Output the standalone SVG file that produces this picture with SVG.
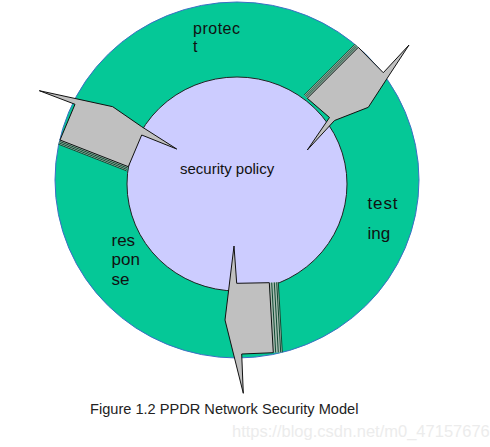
<svg xmlns="http://www.w3.org/2000/svg" width="490" height="447" viewBox="0 0 490 447">
<style>
.lbl{font-family:"Liberation Sans",Arial,sans-serif;font-size:17px;fill:#111}
.arrow{fill:#c0c0c0;stroke:#111;stroke-width:1;stroke-linejoin:miter}
.strip{fill:#a9bcb1;stroke:none}
.sl{stroke:#0f4a33;stroke-width:1;fill:none}
</style>
<rect width="490" height="447" fill="#ffffff"/>
<g id="ring">
<ellipse cx="237" cy="180" rx="182" ry="178" fill="#05c897" stroke="#3a6fc4" stroke-width="1"/>
</g>
<g id="policy">
<ellipse cx="237" cy="184" rx="110" ry="107" fill="#ccccff" stroke="#222" stroke-width="1"/>
<text class="lbl" x="180" y="174" style="font-size:15px">security policy</text>
</g>
<g id="protect">
<text class="lbl" x="193" y="34" style="font-size:16px" textLength="47">protec</text>
<text class="lbl" x="193" y="52" style="font-size:16px">t</text>
</g>
<g id="testing">
<text class="lbl" x="367.5" y="209" textLength="30">test</text>
<text class="lbl" x="367.5" y="239">ing</text>
</g>
<g id="response">
<text class="lbl" x="111.5" y="246">res</text>
<text class="lbl" x="111.5" y="265">pon</text>
<text class="lbl" x="111.5" y="285">se</text>
</g>
<g id="connectors">
<polygon class="strip" points="60,140 128.3,166.7 126.7,170.9 58.4,144.2"/>
<line class="sl" x1="59.45" y1="141.4" x2="127.75" y2="168.1"/>
<line class="sl" x1="58.9" y1="142.8" x2="127.2" y2="169.5"/>
<line class="sl" x1="58.36" y1="144.2" x2="126.66" y2="170.9"/>
<polygon class="arrow" points="39.3,90.7 112.7,106.7 141.7,126.7 176.7,149 141.7,135 128.3,166.7 60,140 75,104.3"/>
<polygon class="strip" points="307.3,98.3 358.3,47.3 355.1,44.1 304.1,95.1"/>
<line class="sl" x1="306.2" y1="97.2" x2="357.2" y2="46.2"/>
<line class="sl" x1="305.2" y1="96.2" x2="356.2" y2="45.2"/>
<line class="sl" x1="304.1" y1="95.1" x2="355.1" y2="44.1"/>
<polygon class="arrow" points="307.3,98.3 358.3,47.3 383.3,72.7 409,45 389.3,75 368.3,107.3 334.5,120.5 307.3,150 329.5,117.5"/>
<polygon class="strip" points="269.3,282.7 278.3,282.2 282.3,352.2 273.3,352.7"/>
<line class="sl" x1="271.7" y1="282.6" x2="275.7" y2="352.6"/>
<line class="sl" x1="274.3" y1="282.4" x2="278.3" y2="352.4"/>
<line class="sl" x1="276.7" y1="282.3" x2="280.7" y2="352.3"/>
<line class="sl" x1="278.3" y1="282.2" x2="282.3" y2="352.2"/>
<polygon class="arrow" points="234,246 236.7,283.3 269.3,282.7 273.3,352.7 241.7,354 243.3,393.3 225,320"/>
</g>
<g id="caption">
<text x="90" y="414" style="font-family:'Liberation Sans',Arial,sans-serif;font-size:14.6px;fill:#222">Figure 1.2 PPDR Network Security Model</text>
<text x="232" y="437" style="font-family:'Liberation Sans',Arial,sans-serif;font-size:16.5px;fill:#ececec">https://blog.csdn.net/m0_47157676</text>
</g>
</svg>
